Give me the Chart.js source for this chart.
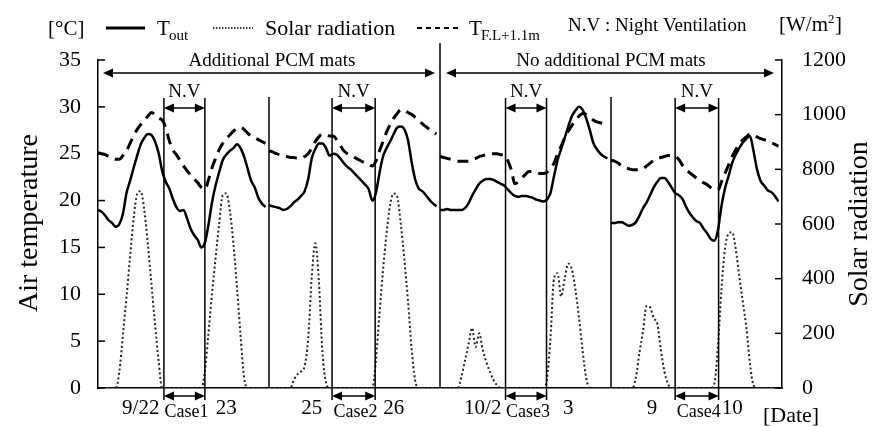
<!DOCTYPE html>
<html>
<head>
<meta charset="utf-8">
<script src="https://cdn.jsdelivr.net/npm/chart.js@4.4.1/dist/chart.umd.min.js"></script>
<style>
  html, body { margin: 0; padding: 0; background: #fff; }
  #wrap { width: 872px; height: 427px; }
</style>
</head>
<body>
<div id="wrap"><canvas id="chart" width="872" height="427"></canvas></div>
<script>
const SERIF = "'Liberation Serif', 'Times New Roman', serif"

// hourly readings, each block = two days (hour 0..47)
// block 1: 9/22-23, block 2: 9/25-26, block 3: 10/2-3, block 4: 10/9-10
const toutB1 = [19.0, 18.8, 18.4, 17.9, 17.6, 17.2, 17.5, 18.6, 20.8, 22.1, 23.5, 24.8, 26.0, 26.7, 27.1, 27.0, 26.3, 25.1, 23.2, 22.0, 21.3, 20.2, 19.3, 18.9, 19.0, 18.1, 17.0, 16.3, 15.8, 15.0, 15.5, 17.4, 19.8, 21.6, 23.0, 24.3, 24.9, 25.3, 25.6, 26.0, 25.6, 24.7, 23.4, 22.1, 21.4, 20.3, 19.7, 19.3]
const toutB2 = [19.5, 19.4, 19.3, 19.2, 19.0, 19.1, 19.4, 19.8, 20.1, 20.5, 21.0, 22.3, 24.5, 25.5, 26.1, 26.1, 25.6, 24.8, 25.0, 24.9, 24.5, 24.0, 23.6, 23.3, 22.9, 22.5, 22.1, 21.7, 21.2, 20.0, 20.8, 22.9, 24.7, 25.6, 26.3, 27.1, 27.8, 27.9, 27.6, 26.5, 24.2, 22.3, 21.3, 21.0, 20.6, 20.1, 19.7, 19.4]
const toutB3 = [19.0, 19.0, 19.1, 19.0, 19.0, 19.0, 19.0, 19.2, 19.7, 20.5, 21.2, 21.8, 22.1, 22.3, 22.3, 22.2, 22.0, 21.8, 21.6, 21.2, 20.8, 20.5, 20.4, 20.5, 20.5, 20.4, 20.3, 20.1, 20.0, 19.9, 20.1, 20.8, 22.6, 24.3, 25.5, 26.7, 27.9, 29.0, 29.6, 30.0, 29.7, 28.8, 27.6, 26.2, 25.5, 25.0, 24.7, 24.5]
const toutB4 = [17.6, 17.6, 17.7, 17.7, 17.5, 17.3, 17.4, 17.7, 18.4, 19.2, 19.8, 20.6, 21.4, 22.0, 22.4, 22.4, 22.0, 21.4, 20.8, 20.6, 20.2, 19.4, 18.7, 18.2, 17.8, 17.6, 17.0, 16.5, 15.9, 15.7, 16.8, 19.4, 21.3, 22.6, 24.0, 24.9, 25.6, 26.2, 26.6, 26.9, 25.3, 23.3, 22.1, 21.6, 21.1, 20.9, 20.5, 19.9]

const tflB1 = [25.1, 25.0, 24.9, 24.7, 24.5, 24.4, 24.4, 24.8, 25.3, 26.1, 26.9, 27.6, 28.1, 28.6, 29.0, 29.4, 29.2, 28.8, 28.6, 27.8, 26.4, 25.4, 24.9, 24.3, 23.7, 23.2, 22.7, 22.3, 21.9, 21.4, 21.2, 22.2, 23.5, 24.5, 25.4, 26.1, 26.6, 27.0, 27.4, 27.7, 27.8, 27.6, 27.2, 26.9, 26.7, 26.5, 26.3, 26.1]
const tflB2 = [25.3, 25.2, 25.0, 24.9, 24.8, 24.7, 24.6, 24.6, 24.5, 24.5, 24.7, 25.0, 25.6, 26.3, 26.8, 27.1, 27.0, 26.9, 26.9, 26.5, 25.9, 25.3, 25.0, 24.8, 24.6, 24.4, 24.2, 24.0, 23.9, 23.7, 24.2, 25.3, 26.3, 27.3, 28.1, 28.8, 29.3, 29.7, 29.6, 29.4, 29.2, 28.9, 28.6, 28.2, 27.9, 27.6, 27.3, 27.1]
const tflB3 = [24.7, 24.6, 24.5, 24.4, 24.3, 24.2, 24.2, 24.2, 24.2, 24.4, 24.5, 24.7, 24.8, 24.9, 25.0, 25.0, 25.0, 24.9, 24.9, 24.3, 23.3, 21.8, 22.0, 22.4, 22.8, 23.1, 23.1, 23.0, 22.9, 22.9, 23.0, 23.4, 24.0, 25.0, 25.8, 26.7, 27.4, 28.0, 28.5, 29.0, 29.3, 29.2, 28.9, 28.6, 28.4, 28.3, 28.2, 28.1]
const tflB4 = [24.3, 24.2, 24.0, 23.7, 23.5, 23.4, 23.3, 23.3, 23.3, 23.4, 23.7, 24.0, 24.3, 24.5, 24.6, 24.7, 24.8, 24.8, 24.7, 24.4, 23.8, 23.3, 23.0, 22.7, 22.4, 22.2, 21.9, 21.7, 21.4, 21.2, 21.1, 22.0, 22.9, 23.8, 24.7, 25.4, 26.0, 26.5, 26.8, 27.1, 27.0, 26.8, 26.6, 26.5, 26.4, 26.2, 26.0, 25.8]

const solarB1 = [0, 0, 0, 0, 0, 0, 60, 195, 332, 480, 620, 710, 720, 650, 525, 380, 235, 100, 0, 0, 0, 0, 0, 0, 0, 0, 0, 0, 0, 0, 60, 200, 345, 475, 600, 705, 712, 650, 530, 370, 195, 40, 0, 0, 0, 0, 0, 0]
const solarB2 = [0, 0, 0, 0, 0, 0, 0, 30, 50, 60, 80, 180, 405, 530, 390, 130, 20, 0, 0, 0, 0, 0, 0, 0, 0, 0, 0, 0, 0, 0, 100, 270, 430, 565, 670, 712, 700, 600, 470, 320, 150, 30, 0, 0, 0, 0, 0, 0]
const solarB3 = [0, 0, 0, 0, 0, 0, 40, 100, 160, 220, 150, 200, 140, 95, 60, 30, 10, 0, 0, 0, 0, 0, 0, 0, 0, 0, 0, 0, 0, 0, 30, 180, 400, 420, 335, 400, 455, 435, 360, 260, 140, 40, 0, 0, 0, 0, 0, 0]
const solarB4 = [0, 0, 0, 0, 0, 0, 0, 40, 130, 210, 300, 295, 255, 235, 140, 60, 15, 0, 0, 0, 0, 0, 0, 0, 0, 0, 0, 0, 0, 15, 150, 360, 510, 565, 570, 510, 410, 315, 220, 90, 10, 0, 0, 0, 0, 0, 0, 0]

// x axis in hours from the start of block 1
const dateTicks = [12, 36, 60, 83, 108, 132, 155.5, 178]
const dateLabels = ['9/22', '23', '25', '26', '10/2', '3', '9', '10']
const caseLabels = ['Case1', 'Case2', 'Case3', 'Case4']
const nvStart = [18.5, 65.7, 114.4, 162]
const nvEnd = [30, 77.8, 125.9, 174.2]
const blockEdges = [48, 96, 144]

function joinBlocks(blocks) {
  const pts = []
  blocks.forEach((vals, b) => {
    vals.forEach((v, h) => pts.push({ x: b * 48 + h, y: v }))
    pts.push({ x: b * 48 + 47.9, y: null })
  })
  return pts
}

function line(ctx, x1, y1, x2, y2) {
  ctx.beginPath()
  ctx.moveTo(x1, y1)
  ctx.lineTo(x2, y2)
  ctx.stroke()
}

function head(ctx, tip, yy, dir) {
  ctx.beginPath()
  ctx.moveTo(tip, yy)
  ctx.lineTo(tip + dir * 10, yy - 4.5)
  ctx.lineTo(tip + dir * 10, yy + 4.5)
  ctx.closePath()
  ctx.fill()
}

function arrow(ctx, x1, x2, yy) {
  line(ctx, x1 + 4, yy, x2 - 4, yy)
  head(ctx, x1, yy, 1)
  head(ctx, x2, yy, -1)
}

function text(ctx, str, px, py, size, align = 'left') {
  ctx.font = `${size}px ${SERIF}`
  ctx.textAlign = align
  ctx.textBaseline = 'alphabetic'
  ctx.fillText(str, px, py)
}

const overlay = {
  id: 'overlay',
  afterDraw(chart) {
    const { ctx, chartArea: area, scales: { x, y, y2 } } = chart
    ctx.save()
    ctx.strokeStyle = '#000'
    ctx.fillStyle = '#000'
    ctx.lineWidth = 1.5
    ctx.setLineDash([])

    // inward tick marks on both value axes
    y.ticks.forEach(t => {
      const py = y.getPixelForValue(t.value)
      line(ctx, area.left, py, area.left + 7, py)
    })
    y2.ticks.forEach(t => {
      const py = y2.getPixelForValue(t.value)
      line(ctx, area.right, py, area.right - 7, py)
    })

    // block separators
    blockEdges.forEach(h => {
      const px = x.getPixelForValue(h)
      line(ctx, px, h === 96 ? area.top - 17 : area.top + 37, px, area.bottom)
    })

    // night ventilation periods
    nvStart.forEach((h, i) => {
      const a = x.getPixelForValue(h)
      const b = x.getPixelForValue(nvEnd[i])
      line(ctx, a, area.top + 38, a, area.bottom + 12)
      line(ctx, b, area.top + 38, b, area.bottom + 12)
      arrow(ctx, a, b, area.top + 48)
      arrow(ctx, a, b, area.bottom + 8)
      text(ctx, 'N.V', (a + b) / 2, area.top + 37, 19, 'center')
      text(ctx, caseLabels[i], (a + b) / 2 + 2, area.bottom + 29, 18, 'center')
    })

    // period arrows
    const mid = x.getPixelForValue(96)
    arrow(ctx, area.left + 5, mid - 5, area.top + 13)
    arrow(ctx, mid + 6, area.right - 8, area.top + 13)
    text(ctx, 'Additional PCM mats', (area.left + mid) / 2 + 3, area.top + 6, 19, 'center')
    text(ctx, 'No additional PCM mats', (mid + area.right) / 2, area.top + 6, 19, 'center')
    text(ctx, '[Date]', 763, 422, 22)

    // legend row
    text(ctx, '[°C]', 48, 35, 21)
    ctx.lineWidth = 3
    line(ctx, 106, 28, 145, 28)
    text(ctx, 'T', 157, 35, 21)
    text(ctx, 'out', 169, 39.5, 15)
    ctx.lineWidth = 1.5
    ctx.setLineDash([1.5, 1.5])
    line(ctx, 213, 28, 253, 28)
    text(ctx, 'Solar radiation', 265, 35, 22)
    ctx.lineWidth = 2
    ctx.setLineDash([5, 4])
    line(ctx, 417, 28, 458, 28)
    ctx.setLineDash([])
    text(ctx, 'T', 469, 35, 21)
    text(ctx, 'F.L+1.1m', 481, 39.5, 15)
    text(ctx, 'N.V : Night Ventilation', 568, 31, 19)
    text(ctx, '[W/m', 779, 31, 21)
    ctx.font = `21px ${SERIF}`
    const w = ctx.measureText('[W/m').width
    text(ctx, '2', 779 + w, 23, 13)
    text(ctx, ']', 779 + w + 7, 31, 21)

    // axis titles
    ctx.save()
    ctx.translate(37, 223)
    ctx.rotate(-Math.PI / 2)
    text(ctx, 'Air temperature', 0, 0, 28, 'center')
    ctx.restore()
    ctx.save()
    ctx.translate(867, 224)
    ctx.rotate(-Math.PI / 2)
    text(ctx, 'Solar radiation', 0, 0, 28, 'center')
    ctx.restore()

    ctx.restore()
  }
}

const tickFont = { family: SERIF, size: 22 }

new Chart(document.getElementById('chart'), {
  type: 'line',
  data: {
    datasets: [
      {
        label: 'Tout',
        data: joinBlocks([toutB1, toutB2, toutB3, toutB4]),
        borderColor: '#000',
        borderWidth: 2.5,
        yAxisID: 'y'
      },
      {
        label: 'Solar radiation',
        data: joinBlocks([solarB1, solarB2, solarB3, solarB4]),
        borderColor: '#222',
        borderWidth: 2,
        borderDash: [2, 2.5],
        yAxisID: 'y2'
      },
      {
        label: 'TF.L+1.1m',
        data: joinBlocks([tflB1, tflB2, tflB3, tflB4]),
        borderColor: '#000',
        borderWidth: 3,
        borderDash: [11, 7],
        yAxisID: 'y'
      }
    ]
  },
  options: {
    responsive: false,
    animation: false,
    events: [],
    layout: { padding: { top: 60, left: 0, right: 0, bottom: 0 } },
    elements: {
      point: { radius: 0 },
      line: { cubicInterpolationMode: 'monotone', fill: false }
    },
    plugins: {
      legend: { display: false },
      tooltip: { enabled: false }
    },
    scales: {
      x: {
        type: 'linear',
        min: 0,
        max: 192,
        z: 1,
        border: { color: '#000', width: 1.5 },
        grid: { display: false, drawTicks: false },
        afterBuildTicks: axis => {
          axis.ticks = dateTicks.map(v => ({ value: v }))
        },
        ticks: {
          autoSkip: false,
          maxRotation: 0,
          padding: 8,
          color: '#000',
          font: { family: SERIF, size: 21 },
          callback: (v, i) => dateLabels[i]
        },
        afterFit: axis => { axis.height = 39 }
      },
      y: {
        position: 'left',
        min: 0,
        max: 35,
        border: { color: '#000', width: 1.5 },
        grid: { display: false, drawTicks: false },
        ticks: { stepSize: 5, padding: 17, color: '#000', font: tickFont },
        afterFit: axis => { axis.width = 98 }
      },
      y2: {
        position: 'right',
        min: 0,
        max: 1200,
        border: { color: '#000', width: 1.5 },
        grid: { display: false, drawTicks: false },
        ticks: { stepSize: 200, padding: 20, color: '#000', font: tickFont, callback: v => String(v) },
        afterFit: axis => { axis.width = 90 }
      }
    }
  },
  plugins: [overlay]
})
</script>
</body>
</html>
